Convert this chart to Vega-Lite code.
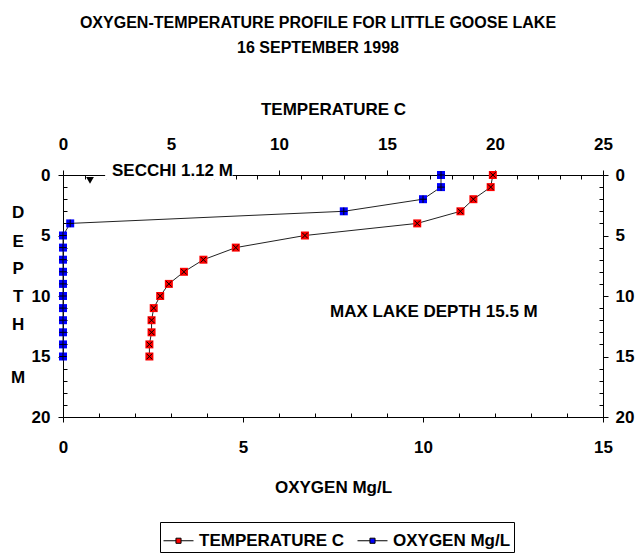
{
  "$schema": "https://vega.github.io/schema/vega-lite/v6.json",
  "autosize": "none",
  "width": 540,
  "height": 242,
  "padding": {"left": 63, "top": 175, "right": 34, "bottom": 140},
  "background": "white",
  "config": {
    "font": "Liberation Sans, Arial, sans-serif",
    "view": {"stroke": null},
    "axis": {
      "grid": false,
      "zindex": 0,
      "domainColor": "#000000",
      "domainWidth": 1,
      "tickColor": "#000000",
      "tickWidth": 1,
      "labelColor": "#000000",
      "labelFont": "Liberation Sans, Arial, sans-serif",
      "labelFontWeight": "bold",
      "labelFontSize": 17,
      "titleColor": "#000000",
      "titleFont": "Liberation Sans, Arial, sans-serif",
      "titleFontWeight": "bold",
      "titleFontSize": 17,
      "labelOverlap": false,
      "labelFlush": false
    },
    "legend": {
      "labelFont": "Liberation Sans, Arial, sans-serif",
      "labelFontWeight": "bold",
      "labelFontSize": 17,
      "labelColor": "#000000"
    }
  },
  "title": {
    "text": ["OXYGEN-TEMPERATURE PROFILE FOR LITTLE GOOSE LAKE", "16 SEPTEMBER 1998"],
    "anchor": "middle",
    "frame": "group",
    "dx": -15,
    "offset": 44,
    "fontSize": 16,
    "fontWeight": "bold",
    "lineHeight": 25,
    "color": "#000000",
    "font": "Liberation Sans, Arial, sans-serif"
  },
  "data": {
    "values": [
      {"series": "TEMPERATURE C", "depth": 0, "value": 19.9},
      {"series": "TEMPERATURE C", "depth": 1, "value": 19.8},
      {"series": "TEMPERATURE C", "depth": 2, "value": 19.0},
      {"series": "TEMPERATURE C", "depth": 3, "value": 18.4},
      {"series": "TEMPERATURE C", "depth": 4, "value": 16.4},
      {"series": "TEMPERATURE C", "depth": 5, "value": 11.2},
      {"series": "TEMPERATURE C", "depth": 6, "value": 8.0},
      {"series": "TEMPERATURE C", "depth": 7, "value": 6.5},
      {"series": "TEMPERATURE C", "depth": 8, "value": 5.6},
      {"series": "TEMPERATURE C", "depth": 9, "value": 4.9},
      {"series": "TEMPERATURE C", "depth": 10, "value": 4.5},
      {"series": "TEMPERATURE C", "depth": 11, "value": 4.2},
      {"series": "TEMPERATURE C", "depth": 12, "value": 4.1},
      {"series": "TEMPERATURE C", "depth": 13, "value": 4.1},
      {"series": "TEMPERATURE C", "depth": 14, "value": 4.0},
      {"series": "TEMPERATURE C", "depth": 15, "value": 4.0},
      {"series": "OXYGEN Mg/L", "depth": 0, "value": 10.5},
      {"series": "OXYGEN Mg/L", "depth": 1, "value": 10.5},
      {"series": "OXYGEN Mg/L", "depth": 2, "value": 10.0},
      {"series": "OXYGEN Mg/L", "depth": 3, "value": 7.8},
      {"series": "OXYGEN Mg/L", "depth": 4, "value": 0.2},
      {"series": "OXYGEN Mg/L", "depth": 5, "value": 0.0},
      {"series": "OXYGEN Mg/L", "depth": 6, "value": 0.0},
      {"series": "OXYGEN Mg/L", "depth": 7, "value": 0.0},
      {"series": "OXYGEN Mg/L", "depth": 8, "value": 0.0},
      {"series": "OXYGEN Mg/L", "depth": 9, "value": 0.0},
      {"series": "OXYGEN Mg/L", "depth": 10, "value": 0.0},
      {"series": "OXYGEN Mg/L", "depth": 11, "value": 0.0},
      {"series": "OXYGEN Mg/L", "depth": 12, "value": 0.0},
      {"series": "OXYGEN Mg/L", "depth": 13, "value": 0.0},
      {"series": "OXYGEN Mg/L", "depth": 14, "value": 0.0},
      {"series": "OXYGEN Mg/L", "depth": 15, "value": 0.0}
    ]
  },
  "resolve": {"scale": {"x": "independent"}, "axis": {"y": "independent"}},
  "layer": [
    {
      "encoding": {
        "x": {
          "field": "value",
          "type": "quantitative",
          "scale": {"domain": [0, 25], "nice": false, "zero": false},
          "axis": {
            "orient": "top",
            "title": "TEMPERATURE C",
            "values": [0,1,2,3,4,5,6,7,8,9,10,11,12,13,14,15,16,17,18,19,20,21,22,23,24,25],
            "labelExpr": "datum.value % 5 === 0 ? datum.label : ''",
            "tickSize": {"condition": {"test": "datum.value % 5 === 0", "value": 5}, "value": -4},
            "labelPadding": 17,
            "titlePadding": 17
          }
        },
        "y": {
          "field": "depth",
          "type": "quantitative",
          "scale": {"domain": [0, 20], "reverse": true, "nice": false, "zero": false},
          "axis": {
            "orient": "left",
            "title": null,
            "values": [0,1,2,3,4,5,6,7,8,9,10,11,12,13,14,15,16,17,18,19,20],
            "labelExpr": "datum.value % 5 === 0 ? datum.label : ''",
            "tickSize": {"condition": {"test": "datum.value % 5 === 0", "value": 5}, "value": -4},
            "labelPadding": 8
          }
        }
      },
      "layer": [
        {
          "transform": [{"filter": "datum.series === 'TEMPERATURE C'"}],
          "layer": [
            {
              "mark": {"type": "line", "color": "#222222", "strokeWidth": 1},
              "encoding": {"order": {"field": "depth", "type": "quantitative"}}
            },
            {
              "mark": {"type": "point", "shape": "square", "filled": true, "size": 64, "opacity": 1},
              "encoding": {
                "color": {
                  "field": "series",
                  "type": "nominal",
                  "scale": {"domain": ["TEMPERATURE C", "OXYGEN Mg/L"], "range": ["#ff0000", "#0000ff"]},
                  "legend": {
                    "title": null,
                    "orient": "none",
                    "direction": "horizontal",
                    "legendX": 97,
                    "legendY": 347,
                    "strokeColor": "#000000",
                    "fillColor": "#ffffff",
                    "padding": 3,
                    "columnPadding": 10,
                    "symbolType": "M-1,0H-0.17M0.17,0H1M-0.17,-0.17H0.17V0.17H-0.17Z",
                    "symbolSize": 900,
                    "symbolStrokeColor": "#000000",
                    "symbolStrokeWidth": 1,
                    "labelOffset": 5
                  }
                }
              }
            },
            {
              "mark": {"type": "point", "shape": "M-1,-1L1,1M-1,1L1,-1", "filled": false, "color": "#000000", "strokeWidth": 1, "size": 30, "opacity": 1}
            }
          ]
        },
        {
          "data": {"values": [{"value": 1.25, "depth": 0.45}]},
          "mark": {"type": "point", "shape": "triangle-down", "filled": true, "color": "#000000", "size": 60, "opacity": 1}
        },
        {
          "data": {"values": [{"value": 1.95, "value2": 7.85, "depth": -1.0, "depth2": 0.4}]},
          "mark": {"type": "rect", "color": "#ffffff", "zindex": 1},
          "encoding": {
            "x2": {"field": "value2"},
            "y2": {"field": "depth2"}
          }
        },
        {
          "data": {"values": [
            {"label": "SECCHI 1.12 M", "value": 2.27, "depth": -0.35},
            {"label": "MAX LAKE DEPTH 15.5 M", "value": 12.36, "depth": 11.3}
          ]},
          "mark": {"type": "text", "align": "left", "baseline": "middle", "fontSize": 17, "fontWeight": "bold", "color": "#000000", "zindex": 2},
          "encoding": {"text": {"field": "label", "type": "nominal"}}
        },
        {
          "data": {"values": [
            {"label": "D", "value": -2.08, "depth": 3.12},
            {"label": "E", "value": -2.08, "depth": 5.51},
            {"label": "P", "value": -2.08, "depth": 7.77},
            {"label": "T", "value": -2.08, "depth": 10.06},
            {"label": "H", "value": -2.08, "depth": 12.4},
            {"label": "M", "value": -2.08, "depth": 16.78}
          ]},
          "mark": {"type": "text", "align": "center", "baseline": "middle", "fontSize": 17, "fontWeight": "bold", "color": "#000000"},
          "encoding": {"text": {"field": "label", "type": "nominal"}}
        }
      ]
    },
    {
      "transform": [{"filter": "datum.series === 'OXYGEN Mg/L'"}],
      "encoding": {
        "x": {
          "field": "value",
          "type": "quantitative",
          "scale": {"domain": [0, 15], "nice": false, "zero": false},
          "axis": {
            "orient": "bottom",
            "title": "OXYGEN Mg/L",
            "values": [0,1,2,3,4,5,6,7,8,9,10,11,12,13,14,15],
            "labelExpr": "datum.value % 5 === 0 ? datum.label : ''",
            "tickSize": {"condition": {"test": "datum.value % 5 === 0", "value": 5}, "value": -4},
            "labelPadding": 17,
            "titlePadding": 24
          }
        },
        "y": {
          "field": "depth",
          "type": "quantitative",
          "scale": {"domain": [0, 20], "reverse": true, "nice": false, "zero": false},
          "axis": {
            "orient": "right",
            "title": null,
            "values": [0,1,2,3,4,5,6,7,8,9,10,11,12,13,14,15,16,17,18,19,20],
            "labelExpr": "datum.value % 5 === 0 ? datum.label : ''",
            "tickSize": {"condition": {"test": "datum.value % 5 === 0", "value": 5}, "value": -4},
            "labelPadding": 7
          }
        }
      },
      "layer": [
        {
          "mark": {"type": "line", "color": "#222222", "strokeWidth": 1},
          "encoding": {"order": {"field": "depth", "type": "quantitative"}}
        },
        {
          "mark": {"type": "point", "shape": "square", "filled": true, "size": 64, "opacity": 1},
          "encoding": {
            "color": {
              "field": "series",
              "type": "nominal",
              "scale": {"domain": ["TEMPERATURE C", "OXYGEN Mg/L"], "range": ["#ff0000", "#0000ff"]},
              "legend": {
                "title": null,
                "orient": "none",
                "direction": "horizontal",
                "legendX": 97,
                "legendY": 347,
                "strokeColor": "#000000",
                "fillColor": "#ffffff",
                "padding": 3,
                "columnPadding": 10,
                "symbolType": "M-1,0H-0.17M0.17,0H1M-0.17,-0.17H0.17V0.17H-0.17Z",
                "symbolSize": 900,
                "symbolStrokeColor": "#000000",
                "symbolStrokeWidth": 1,
                "labelOffset": 5
              }
            }
          }
        },
        {
          "mark": {"type": "point", "shape": "M-1,0H1M0,-1V1", "filled": false, "color": "#000000", "strokeWidth": 1, "size": 56, "opacity": 1}
        }
      ]
    }
  ]
}
